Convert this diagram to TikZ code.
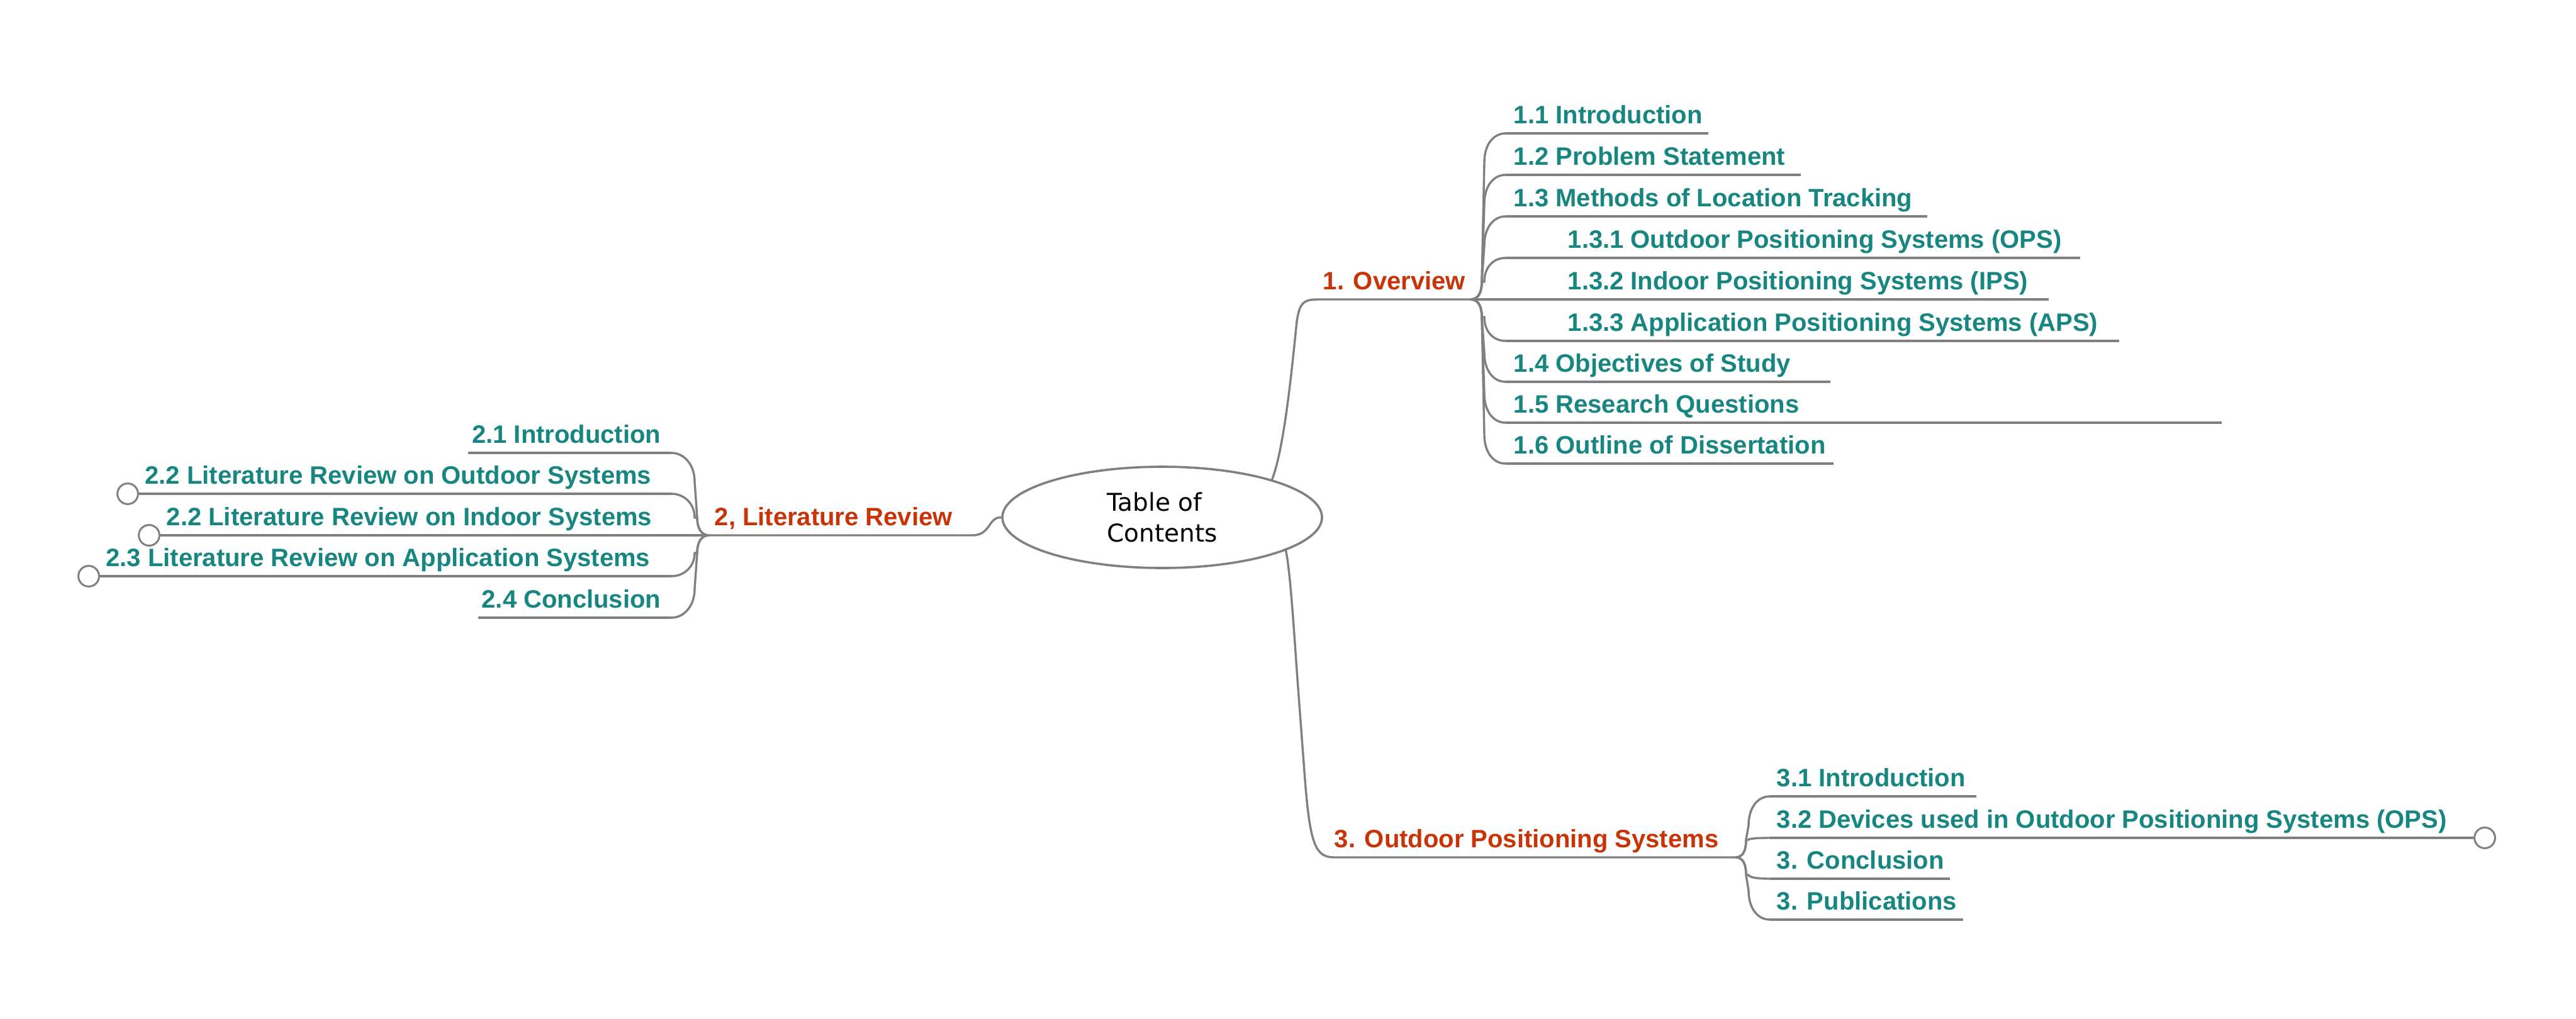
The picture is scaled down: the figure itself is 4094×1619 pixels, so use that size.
\documentclass[tikz,border=0pt]{standalone}
\usepackage{fontspec}
\newfontfamily\lsans{Liberation Sans}
\newfontfamily\dvsans{DejaVu Sans}
\usetikzlibrary{shapes.geometric}
\definecolor{linegray}{RGB}{128,128,128}
\definecolor{tealc}{RGB}{24,134,128}
\definecolor{redc}{RGB}{200,52,8}
% fan curve: #1 fan name, #2 fan x, #3 fan y, #4 x of vertical part, #5 child x, #6 child y, #7 child name
\newcommand\fancurve[7]{%
 \pgfmathsetmacro\fsg{sign(#6-#3)}%
 \pgfmathsetmacro\fdx{sign(#5-#2)}%
 \pgfmathsetmacro\fch{max(0,min(46,abs(#6-#3)-28))}%
 \pgfmathsetmacro\fya{#3+\fsg*28}%
 \pgfmathsetmacro\fyc{#3+\fsg*12}%
 \pgfmathsetmacro\fyb{#6-\fsg*\fch}%
 \pgfmathsetmacro\fyd{#6-\fsg*\fch*0.4}%
 \pgfmathsetmacro\fxa{#2+\fdx*13}%
 \pgfmathsetmacro\fxb{#4+\fdx*4}%
 \pgfmathsetmacro\fxd{#5-\fdx*20}%
 \draw[conn] (#1) .. controls (\fxa,#3) and (#4,\fyc) .. (#4,\fya) -- (\fxb,\fyb)
   .. controls (\fxb,\fyd) and (\fxd,#6) .. (#7);%
}
\begin{document}
\begin{tikzpicture}[x=0.25pt,y=-0.25pt,
  conn/.style={draw=linegray, line width=0.85pt},
  sub/.style={font=\lsans\bfseries\fontsize{10pt}{12pt}\selectfont, text=tealc, inner sep=0pt},
  mainb/.style={font=\lsans\bfseries\fontsize{10pt}{12pt}\selectfont, text=redc, inner sep=0pt},
  knob/.style={circle, draw=linegray, line width=0.75pt, fill=white, minimum size=8.2pt, inner sep=0pt},
  rootnode/.style={ellipse, draw=linegray, line width=0.9pt, minimum width=127pt, minimum height=40.25pt,
    inner sep=0pt, align=left, font=\dvsans\fontsize{9.75pt}{12.25pt}\selectfont}]
\fill[white] (0,0) rectangle (4094,1619);
\useasboundingbox (0,0) rectangle (4094,1619);

% root
\node[rootnode] (root) at (1847,822.5) {Table of\\Contents};

% ---------- branch 1 ----------
\node[mainb, anchor=base west] (ov) at (2102,460) {1. Overview};
\coordinate (ofan) at (2337,476);
\draw[conn] (root.19) .. controls (2040,715) and (2052,600) .. (2060,520)
  .. controls (2064,482) and (2070,476) .. (2095,476) -- (ofan);
\foreach \n/\y/\e/\tx/\t in {
 a/212/2715/2405/{1.1 Introduction},
 b/278/2862/2405/{1.2 Problem Statement},
 c/344/3063/2405/{1.3 Methods of Location Tracking},
 d/410/3306/2491/{1.3.1 Outdoor Positioning Systems (OPS)},
 e/476/3256/2491/{1.3.2 Indoor Positioning Systems (IPS)},
 f/542/3368/2491/{1.3.3 Application Positioning Systems (APS)},
 g/607/2909/2405/{1.4 Objectives of Study},
 h/672/3531/2405/{1.5 Research Questions},
 i/737/2914/2405/{1.6 Outline of Dissertation}}
{
 \coordinate (o\n s) at (2393,\y);
 \coordinate (o\n e) at (\e,\y);
 \node[sub, anchor=base west] (o\n) at (\tx,\y-16) {\t};
 \fancurve{ofan}{2337}{476}{2355}{2393}{\y}{o\n s}
 \draw[conn] (o\n s) -- (o\n e);
}

% ---------- branch 2 ----------
\node[mainb, anchor=base west] (lr) at (1135,835) {2, Literature Review};
\coordinate (lfan) at (1127,851);
\draw[conn] (root.west) .. controls (1570,822) and (1575,851) .. (1545,851) -- (lfan);
\foreach \n/\y/\e/\tx/\t in {
 a/720/744/1051/{2.1 Introduction},
 e/982/760/1051/{2.4 Conclusion}}
{
 \coordinate (l\n s) at (1067,\y);
 \coordinate (l\n e) at (\e,\y);
 \node[sub, anchor=base east] (l\n) at (\tx,\y-16) {\t};
 \fancurve{lfan}{1127}{851}{1108}{1067}{\y}{l\n s}
 \draw[conn] (l\n s) -- (l\n e);
}
\foreach \n/\y/\e/\tx/\t in {
 b/785/203/1036/{2.2 Literature Review on Outdoor Systems},
 c/851/237/1037/{2.2 Literature Review on Indoor Systems},
 d/916/141/1034/{2.3 Literature Review on Application Systems}}
{
 \coordinate (l\n s) at (1067,\y);
 \node[knob] (l\n k) at (\e,\y) {};
 \node[sub, anchor=base east] (l\n) at (\tx,\y-16) {\t};
 \fancurve{lfan}{1127}{851}{1108}{1067}{\y}{l\n s}
 \draw[conn] (l\n s) -- (l\n k.east);
}

% ---------- branch 3 ----------
\node[mainb, anchor=base west] (op) at (2120,1347) {3. Outdoor Positioning Systems};
\coordinate (tfan) at (2758,1363);
\draw[conn] (root.-15) .. controls (2050,905) and (2055,980) .. (2062,1080) -- (2074,1240)
  .. controls (2082,1340) and (2090,1363) .. (2120,1363) -- (tfan);
\foreach \n/\y/\e/\t in {
 a/1266/3141/{3.1 Introduction},
 c/1397/3099/{3. Conclusion},
 d/1462/3120/{3. Publications}}
{
 \coordinate (t\n s) at (2813,\y);
 \coordinate (t\n e) at (\e,\y);
 \node[sub, anchor=base west] (t\n) at (2823,\y-16) {\t};
 \fancurve{tfan}{2758}{1363}{2775}{2813}{\y}{t\n s}
 \draw[conn] (t\n s) -- (t\n e);
}
\coordinate (tbs) at (2813,1332);
\node[knob] (tbk) at (3949,1332) {};
\node[sub, anchor=base west] (tb) at (2823,1316) {3.2 Devices used in Outdoor Positioning Systems (OPS)};
\fancurve{tfan}{2758}{1363}{2775}{2813}{1332}{tbs}
\draw[conn] (tbs) -- (tbk.west);
\end{tikzpicture}
\end{document}
